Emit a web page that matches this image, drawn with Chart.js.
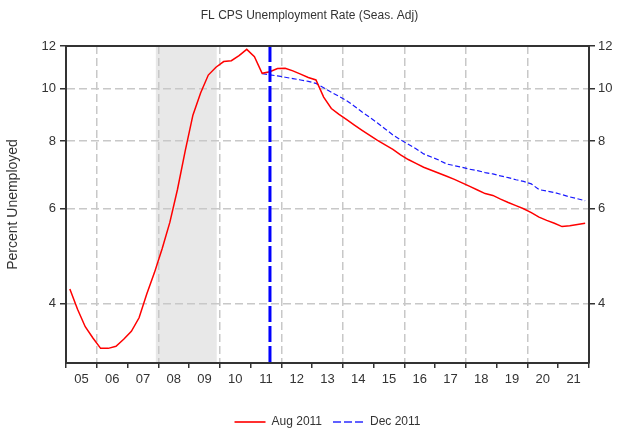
<!DOCTYPE html>
<html>
<head>
<meta charset="utf-8">
<script src="https://cdn.jsdelivr.net/npm/chart.js@4.4.1/dist/chart.umd.min.js"></script>
<style>
  html, body { margin: 0; padding: 0; background: #fff; }
</style>
</head>
<body>
<canvas id="chart" width="619" height="432"></canvas>
<script>
// Tick labels and data (quarterly, 2005Q1 - 2021Q4)
const yearLabels = ['05', '06', '07', '08', '09', '10', '11', '12', '13',
    '14', '15', '16', '17', '18', '19', '20', '21'];
const firstYear = 2005;
const lastYear = 2022;
const yTicks = [4, 6, 8, 10, 12];

const augForecast = [
    4.25, 3.90, 3.62, 3.45, 3.30, 3.30, 3.33, 3.43,
    3.55, 3.76, 4.16, 4.56, 5.05, 5.65, 6.51, 7.67,
    8.93, 9.82, 10.60, 10.96, 11.23, 11.27, 11.52, 11.83,
    11.47, 10.68, 10.75, 10.90, 10.91, 10.79, 10.64, 10.49,
    10.38, 9.65, 9.19, 8.96, 8.76, 8.56, 8.37, 8.19,
    8.02, 7.87, 7.72, 7.54, 7.39, 7.27, 7.15, 7.06,
    6.97, 6.88, 6.79, 6.69, 6.59, 6.49, 6.39, 6.34,
    6.24, 6.15, 6.07, 5.99, 5.89, 5.78, 5.70, 5.63,
    5.55, 5.57, 5.60, 5.63
];

// Dec 2011 vintage starts at 2011Q2
const decStart = 25;
const decForecast = [
    10.66, 10.61, 10.56, 10.50, 10.44, 10.38, 10.32, 10.23,
    10.04, 9.85, 9.68, 9.50, 9.28, 9.05, 8.85, 8.64,
    8.42, 8.21, 8.04, 7.89, 7.74, 7.57, 7.47, 7.37,
    7.25, 7.20, 7.15, 7.09, 7.05, 6.99, 6.95, 6.89,
    6.84, 6.78, 6.73, 6.66, 6.50, 6.46, 6.42, 6.36,
    6.30, 6.25, 6.20
];

const recession = [2007.92, 2009.9];
const forecastDate = 2011.63;

const quarterX = augForecast.map((_, i) => firstYear + (i + 0.5) / 4);

Chart.defaults.font.family = "'Liberation Sans', Arial, sans-serif";
Chart.defaults.font.size = 13;
Chart.defaults.color = '#333';

const gridGray = '#c8c8c8';
const clear = 'rgba(0,0,0,0)';

// shaded recession, forecast marker and top frame
const extras = {
    id: 'extras',
    beforeDraw(chart) {
        const {ctx, chartArea: a, scales: {x}} = chart;
        const x0 = x.getPixelForValue(recession[0]);
        const x1 = x.getPixelForValue(recession[1]);
        ctx.save();
        ctx.fillStyle = '#e8e8e8';
        ctx.fillRect(x0, a.top, x1 - x0, a.bottom - a.top);
        ctx.restore();
    },
    afterDatasetsDraw(chart) {
        const {ctx, chartArea: a, scales: {x}} = chart;
        const xf = x.getPixelForValue(forecastDate);
        ctx.save();
        ctx.strokeStyle = '#0000ff';
        ctx.lineWidth = 3;
        ctx.setLineDash([16, 4]);
        ctx.beginPath();
        ctx.moveTo(xf, a.top);
        ctx.lineTo(xf, a.bottom);
        ctx.stroke();
        ctx.setLineDash([]);
        ctx.strokeStyle = '#333';
        ctx.lineWidth = 2;
        ctx.beginPath();
        ctx.moveTo(a.left, a.top);
        ctx.lineTo(a.right, a.top);
        ctx.stroke();
        ctx.restore();
    }
};

const yAxis = (position, width, padding) => ({
    type: 'logarithmic',
    position: position,
    min: 3.1,
    max: 12,
    afterBuildTicks(scale) { scale.ticks = yTicks.map(v => ({value: v})); },
    afterFit(scale) { scale.width = width; },
    ticks: { padding: padding, callback: v => String(v) },
    grid: {
        drawOnChartArea: position === 'left',
        color: c => (c.tick && c.tick.value < 12) ? gridGray : clear,
        tickColor: '#333',
        tickLength: 6,
        lineWidth: 1.5
    },
    border: { color: '#333', width: 2, dash: [8, 4] }
});

const leftAxis = yAxis('left', 66, 4);
leftAxis.title = {
    display: true,
    text: 'Percent Unemployed',
    padding: {top: 5, bottom: 0},
    font: {size: 14}
};

new Chart(document.getElementById('chart'), {
    type: 'line',
    data: {
        datasets: [{
            label: 'Aug 2011',
            data: augForecast.map((v, i) => ({x: quarterX[i], y: v})),
            borderColor: '#ff0000',
            backgroundColor: '#ff0000',
            borderWidth: 1.5,
            pointRadius: 0,
            tension: 0
        }, {
            label: 'Dec 2011',
            data: decForecast.map((v, i) => ({x: quarterX[decStart + i], y: v})),
            borderColor: '#1a1aff',
            backgroundColor: '#1a1aff',
            borderWidth: 1.2,
            borderDash: [5, 2.5],
            pointRadius: 0,
            tension: 0
        }]
    },
    options: {
        responsive: false,
        animation: false,
        events: [],
        layout: { padding: 0 },
        scales: {
            x: {
                type: 'linear',
                min: firstYear,
                max: lastYear,
                afterBuildTicks(scale) {
                    const t = [];
                    for (let v = firstYear; v <= lastYear; v += 0.5) t.push({value: v});
                    scale.ticks = t;
                },
                afterFit(scale) { scale.height = 42; },
                ticks: {
                    autoSkip: false,
                    maxRotation: 0,
                    padding: 4,
                    callback: v => Number.isInteger(v) ? '' : yearLabels[Math.floor(v) - firstYear]
                },
                grid: {
                    color: c => (c.tick && Number.isInteger(c.tick.value) && c.tick.value % 2 === 0
                        && c.tick.value > firstYear && c.tick.value < lastYear) ? gridGray : clear,
                    tickColor: c => (c.tick && Number.isInteger(c.tick.value)) ? '#333' : clear,
                    tickLength: 5,
                    lineWidth: 1.5
                },
                border: { color: '#333', width: 2, dash: [8, 4] }
            },
            y: leftAxis,
            y2: yAxis('right', 30, 3)
        },
        plugins: {
            title: {
                display: true,
                text: 'FL CPS Unemployment Rate (Seas. Adj)',
                color: '#333',
                font: {size: 12, weight: 'normal'},
                padding: {top: 8, bottom: 23.6}
            },
            legend: {
                position: 'bottom',
                fullSize: false,
                maxHeight: 27,
                labels: {
                    usePointStyle: true,
                    pointStyle: 'line',
                    pointStyleWidth: 31,
                    padding: 11,
                    color: '#333',
                    font: {size: 12},
                    generateLabels(chart) {
                        const items = Chart.defaults.plugins.legend.labels.generateLabels(chart);
                        return items.map((item, i) => Object.assign(item, {
                            pointStyle: 'line',
                            lineWidth: 2,
                            lineDash: i === 1 ? [8, 3] : [],
                            strokeStyle: i === 1 ? '#6060ff' : '#ff3030'
                        }));
                    }
                }
            },
            tooltip: { enabled: false }
        }
    },
    plugins: [extras]
});
</script>
</body>
</html>
